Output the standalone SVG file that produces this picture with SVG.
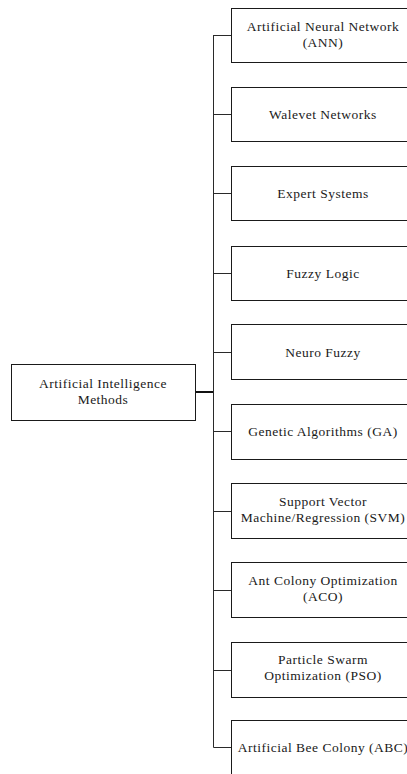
<svg xmlns="http://www.w3.org/2000/svg" width="407" height="774" viewBox="0 0 407 774">
  <style>
    .box { fill: #ffffff; stroke: #1a1a1a; stroke-width: 1; }
    .lbl { font-family: "Liberation Serif", "Times New Roman", serif; font-size: 13.5px; letter-spacing: 0.5px; fill: #1a1a1a; text-anchor: middle; }
    .wire { fill: none; stroke: #2a2a2a; stroke-width: 1; }
    .root-wire { fill: none; stroke: #111111; stroke-width: 2; }
  </style>
  <rect width="407" height="774" fill="#ffffff"/>

  <!-- connectors: trunk, root link and one branch per method -->
  <g id="connectors">
    <line class="root-wire" x1="195" y1="392" x2="213.5" y2="392"/>
    <line class="wire" x1="213.5" y1="35" x2="213.5" y2="747.5"/>
    <line class="wire" x1="213.5" y1="35.5" x2="231.5" y2="35.5"/>
    <line class="wire" x1="213.5" y1="114.5" x2="231.5" y2="114.5"/>
    <line class="wire" x1="213.5" y1="193.5" x2="231.5" y2="193.5"/>
    <line class="wire" x1="213.5" y1="273.5" x2="231.5" y2="273.5"/>
    <line class="wire" x1="213.5" y1="352.5" x2="231.5" y2="352.5"/>
    <line class="wire" x1="213.5" y1="431.5" x2="231.5" y2="431.5"/>
    <line class="wire" x1="213.5" y1="511.5" x2="231.5" y2="511.5"/>
    <line class="wire" x1="213.5" y1="590.5" x2="231.5" y2="590.5"/>
    <line class="wire" x1="213.5" y1="670.5" x2="231.5" y2="670.5"/>
    <line class="wire" x1="213.5" y1="747.5" x2="231.5" y2="747.5"/>
  </g>

  <g id="root">
    <rect class="box" x="11.5" y="364.5" width="184" height="56"/>
    <text class="lbl" x="103" y="388">Artificial Intelligence</text>
    <text class="lbl" x="103" y="403.5">Methods</text>
  </g>

  <g id="ann">
    <rect class="box" x="231.5" y="8.5" width="184" height="54"/>
    <text class="lbl" x="323" y="31">Artificial Neural Network</text>
    <text class="lbl" x="323" y="46.5">(ANN)</text>
  </g>

  <g id="wavelet">
    <rect class="box" x="231.5" y="87.5" width="184" height="54"/>
    <text class="lbl" x="323" y="119">Walevet Networks</text>
  </g>

  <g id="expert">
    <rect class="box" x="231.5" y="166.5" width="184" height="54"/>
    <text class="lbl" x="323" y="198">Expert Systems</text>
  </g>

  <g id="fuzzy">
    <rect class="box" x="231.5" y="246.5" width="184" height="54"/>
    <text class="lbl" x="323" y="278">Fuzzy Logic</text>
  </g>

  <g id="neurofuzzy">
    <rect class="box" x="231.5" y="324.5" width="184" height="55"/>
    <text class="lbl" x="323" y="357">Neuro Fuzzy</text>
  </g>

  <g id="ga">
    <rect class="box" x="231.5" y="404.5" width="184" height="55"/>
    <text class="lbl" x="323" y="436">Genetic Algorithms (GA)</text>
  </g>

  <g id="svm">
    <rect class="box" x="231.5" y="483.5" width="184" height="55"/>
    <text class="lbl" x="323" y="506">Support Vector</text>
    <text class="lbl" x="323" y="521.5">Machine/Regression (SVM)</text>
  </g>

  <g id="aco">
    <rect class="box" x="231.5" y="562.5" width="184" height="55"/>
    <text class="lbl" x="323" y="585">Ant Colony Optimization</text>
    <text class="lbl" x="323" y="600.5">(ACO)</text>
  </g>

  <g id="pso">
    <rect class="box" x="231.5" y="642.5" width="184" height="55"/>
    <text class="lbl" x="323" y="664">Particle Swarm</text>
    <text class="lbl" x="323" y="679.5">Optimization (PSO)</text>
  </g>

  <g id="abc">
    <rect class="box" x="231.5" y="720.5" width="184" height="70"/>
    <text class="lbl" x="323" y="752">Artificial Bee Colony (ABC)</text>
  </g>
</svg>
